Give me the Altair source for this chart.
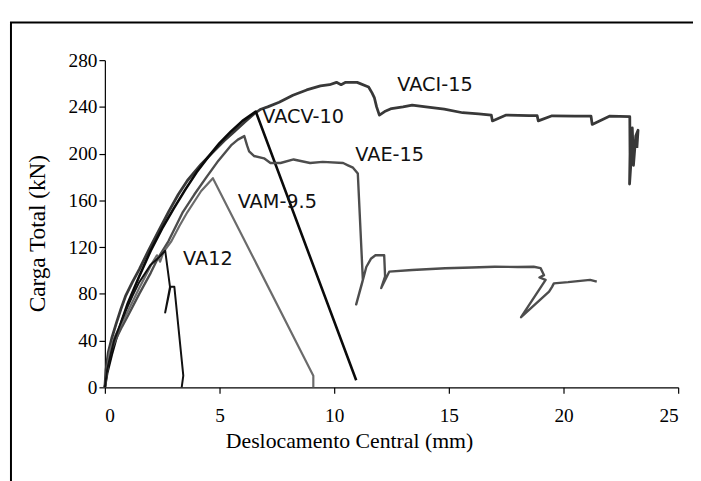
import altair as alt
import pandas as pd

# ---- data ----
vaci_x = [0, 0.05, 0.15, 0.3, 0.5, 0.7, 0.9, 1.2, 1.5, 1.9, 2.35, 2.8, 3.2, 3.6, 4.2, 4.8, 5.2, 5.65, 6.1, 6.5,
          6.8, 7.1, 7.6, 8.2, 8.8, 9.4, 9.8, 10.1, 10.3, 10.5, 11.0, 11.5, 11.65, 11.75, 11.85, 11.97, 12.2,
          12.5, 13.0, 13.4, 14.0, 14.8, 15.6, 16.3, 16.85, 16.9, 17.5, 18.5, 18.85, 18.9, 19.5, 20.5, 21.2,
          21.25, 22.0, 22.89, 22.9, 22.88, 22.95, 23.0, 23.05, 23.15, 23.25, 23.2]
vaci_y = [0, 15, 30, 42, 55, 67, 78, 90, 101, 117, 134, 151, 165, 177, 191, 203, 211, 219, 227, 234,
          238, 240, 244, 250, 254.5, 258, 259, 261, 259, 261, 261, 257, 252, 248, 240, 233, 236,
          238.6, 240, 241.5, 240, 238, 235, 234, 233, 228, 233, 232.5, 232.5, 228, 232.4, 232, 232,
          225, 232, 231.6, 200, 174, 195, 222, 190, 215, 220, 205]

vacv_x = [0, 0.1, 0.3, 0.5, 0.75, 1.0, 1.5, 2.0, 2.5, 3.0, 3.5, 4.0, 4.5, 5.0, 5.5, 6.0, 6.58, 10.96]
vacv_y = [0, 12, 28, 42, 58, 72, 95, 117, 136, 153, 169, 184, 197, 209, 219, 228, 236, 6]

vae_x = [0, 0.15, 0.3, 0.5, 0.75, 1.0, 1.5, 2.0, 2.3, 2.77, 3.1, 3.4, 3.9, 4.4, 4.95, 5.5, 5.8, 6.08, 6.2, 6.29,
         6.5, 6.94, 7.22, 7.66, 8.23, 8.95, 9.5, 10.39, 10.6, 10.82, 11.03, 11.25, 10.96, 11.2, 11.4, 11.6,
         11.8, 11.97, 12.18, 12.22, 12.05, 12.4, 13.4, 14.84, 16.0, 17.0, 18.0, 18.7, 19.0, 19.15, 18.95,
         19.22, 18.15, 19.37, 19.5, 19.58, 20.2, 21.16, 21.45]
vae_y = [0, 22, 33, 42, 52, 61, 80, 98, 110, 125, 138, 150, 165, 179, 194, 207, 212, 215, 207, 202,
         198, 196, 192, 192, 195, 192, 193, 192, 190, 188, 183, 92, 71, 88, 103, 110,
         113, 113, 113, 95, 85, 99, 100.4, 101.9, 102.5, 103.2, 103, 103.2, 102, 96, 94,
         92, 60, 82, 86, 89, 90, 92, 90.5]

vam_x = [0, 0.2, 0.4, 0.6, 1.0, 1.5, 2.05, 2.27, 2.41, 2.56, 2.9, 3.25, 3.6, 4.2, 4.71, 9.09, 9.09]
vam_y = [0, 30, 42, 50, 65, 85, 106, 113, 107.5, 116, 125, 138, 150, 168, 179, 10, 0]

va12_x = [0, 0.1, 0.25, 0.4, 0.65, 0.9, 1.2, 1.5, 2.0, 2.4, 2.63, 2.84, 2.63, 2.8, 2.86, 3.03, 3.42, 3.35]
va12_y = [0, 15, 28, 40, 53, 65, 78, 90, 105, 112, 117, 86, 64, 80, 86, 86, 10, 0]

series_names = ["VACI-15", "VACV-10", "VAE-15", "VAM-9.5", "VA12"]
series_colors = ["#383838", "#0a0a0a", "#4d4d4d", "#6b6b6b", "#111111"]
series_widths = [2.8, 2.0, 2.6, 2.2, 2.0]

label_text = ["VACI-15", "VACV-10", "VAE-15", "VAM-9.5", "VA12"]
label_x = [12.75, 6.86, 10.92, 5.79, 3.41]
label_y = [258.6, 231, 199, 158.2, 109.5]

x_ticks = [0, 5, 10, 15, 20, 25]
y_ticks = [0, 40, 80, 120, 160, 200, 240, 280]

# ---- table ----
rows = []
for name, xs_, ys_ in zip(series_names,
                          [vaci_x, vacv_x, vae_x, vam_x, va12_x],
                          [vaci_y, vacv_y, vae_y, vam_y, va12_y]):
    for i, (xv, yv) in enumerate(zip(xs_, ys_)):
        rows.append({"serie": name, "i": i, "x": xv, "y": yv})
df = pd.DataFrame(rows)
labels = pd.DataFrame({"t": label_text, "x": label_x, "y": label_y})

W, H = 580, 331

xs = alt.Scale(domain=[0, 25], nice=False, zero=False)
ys = alt.Scale(domain=[0, 280], nice=False, zero=False)

lines = alt.Chart(df).mark_line(clip=False, strokeJoin="round").encode(
    x=alt.X("x:Q", scale=xs,
            axis=alt.Axis(values=x_ticks, title="Deslocamento Central (mm)", format="d",
                          titleX=247, titleY=54, titleBaseline="middle", titleAlign="center",
                          titleFontSize=22)),
    y=alt.Y("y:Q", scale=ys,
            axis=alt.Axis(values=y_ticks, title="Carga Total (kN)", format="d",
                          titleX=-68, titleY=175, titleBaseline="middle", titleAngle=-90,
                          titleFontSize=23.5)),
    color=alt.Color("serie:N", scale=alt.Scale(domain=series_names, range=series_colors), legend=None),
    strokeWidth=alt.StrokeWidth("serie:N", scale=alt.Scale(domain=series_names, range=series_widths),
                                legend=None),
    detail="serie:N",
    order="i:Q",
)

text = alt.Chart(labels).mark_text(
    align="left", baseline="middle", font="DejaVu Sans", fontSize=19.5, color="#111111"
).encode(x=alt.X("x:Q", scale=xs), y=alt.Y("y:Q", scale=ys), text="t:N")

frame = alt.Chart(pd.DataFrame({"a": [0]})).mark_rect(
    filled=False, stroke="black", strokeWidth=2, clip=False
).encode(x=alt.value(-95), x2=alt.value(620), y=alt.value(-38), y2=alt.value(470))

chart = alt.layer(frame, lines, text).properties(
    width=W, height=H,
    autosize=alt.AutoSizeParams(type="none"),
    padding={"left": 98, "top": 50, "right": 15, "bottom": 92},
).configure_view(stroke=None).configure_axis(
    grid=False,
    domainColor="black", domainWidth=1.2,
    tickColor="black", tickSize=6, tickWidth=1.2,
    labelFont="Liberation Serif", labelFontSize=19.5, labelColor="black",
    titleFont="Liberation Serif", titleFontWeight="normal", titleColor="black",
).configure_axisX(labelPadding=14).configure_axisY(labelPadding=2)

chart.save("out.html", embed_options={"renderer": "svg", "actions": False})
